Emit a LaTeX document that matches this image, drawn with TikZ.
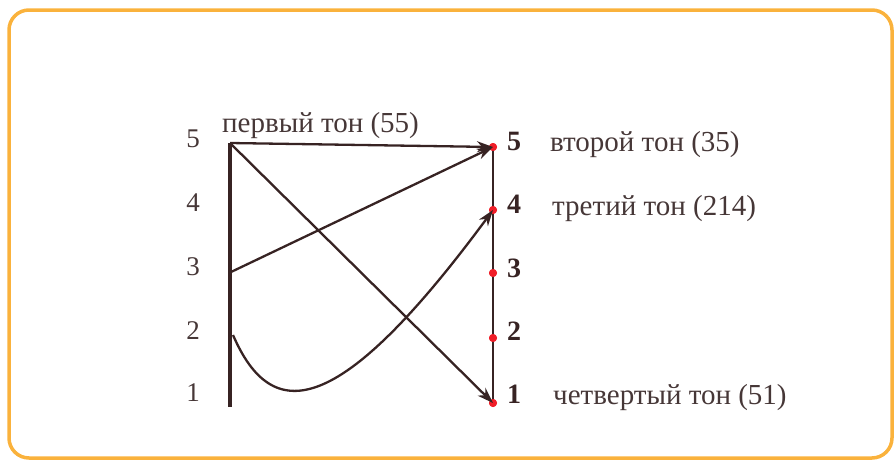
\documentclass[tikz,border=0pt]{standalone}
\usepackage{fontspec}
\setmainfont{Liberation Serif}
\usetikzlibrary{arrows.meta}
\definecolor{frameorange}{RGB}{250,178,60}
\definecolor{ink}{RGB}{55,35,35}
\definecolor{txt}{RGB}{70,55,55}
\definecolor{dotred}{RGB}{240,30,40}
\begin{document}
\begin{tikzpicture}[x=1pt,y=-1pt,
  lbl/.style={font=\fontsize{29}{31}\selectfont, text=txt, inner sep=0pt},
  rdig/.style={font=\fontsize{28}{30}\selectfont\bfseries, text=ink, inner sep=0pt, anchor=base west},
  ldig/.style={lbl, font=\fontsize{27}{29}\selectfont, anchor=base},
  tone/.style={lbl, anchor=base west},
  conn/.style={draw=ink, line width=2.3pt, -{Stealth[length=16pt,width=11pt,inset=5pt]}},
  rdot/.style={circle, fill=dotred, inner sep=0pt, minimum size=8pt}]
\useasboundingbox (0,0) rectangle (895,461);
\draw[frameorange, line width=3.5pt, rounded corners=20pt] (9,10) rectangle (892,458);
% left axis
\coordinate (Ltop) at (230,143);
\coordinate (Lbot) at (230,407);
\coordinate (L3) at (231,272);
\coordinate (L2) at (233,335);
\draw[ink, line width=3.5pt] (Ltop) -- (Lbot);
% right axis
\node[rdot] (R5) at (493,147) {};
\node[rdot] (R4) at (493,210) {};
\node[rdot] (R3) at (493,273) {};
\node[rdot] (R2) at (493,338) {};
\node[rdot] (R1) at (493,403) {};
\draw[ink, line width=2pt] (R5.center) -- (R1.center);
\foreach \n in {5,4,3,2,1} \node[rdot] at (R\n) {};
% left digits
\node[ldig] (l5) at (193,147) {5};
\node[ldig] (l4) at (193,211) {4};
\node[ldig] (l3) at (193,275) {3};
\node[ldig] (l2) at (193,339) {2};
\node[ldig] (l1) at (193,401) {1};
% right digits
\node[rdig] (r5) at (507,150) {5};
\node[rdig] (r4) at (507,213) {4};
\node[rdig] (r3) at (507,277) {3};
\node[rdig] (r2) at (507,340) {2};
\node[rdig] (r1) at (507,403) {1};
% tone labels
\node[tone] (t1) at (222,132) {первый тон (55)};
\node[tone] (t2) at (550,151) {второй тон (35)};
\node[tone] (t3) at (552,215) {третий тон (214)};
\node[tone] (t4) at (553,404) {четвертый тон (51)};
% connectors
\draw[conn] (Ltop) -- (R5.center);
\draw[conn] (Ltop) -- (R1.center);
\draw[conn] (L3) -- (R5.center);
\draw[conn] (L2) .. controls (272,425) and (338,420) .. (R4.center);
\end{tikzpicture}
\end{document}
